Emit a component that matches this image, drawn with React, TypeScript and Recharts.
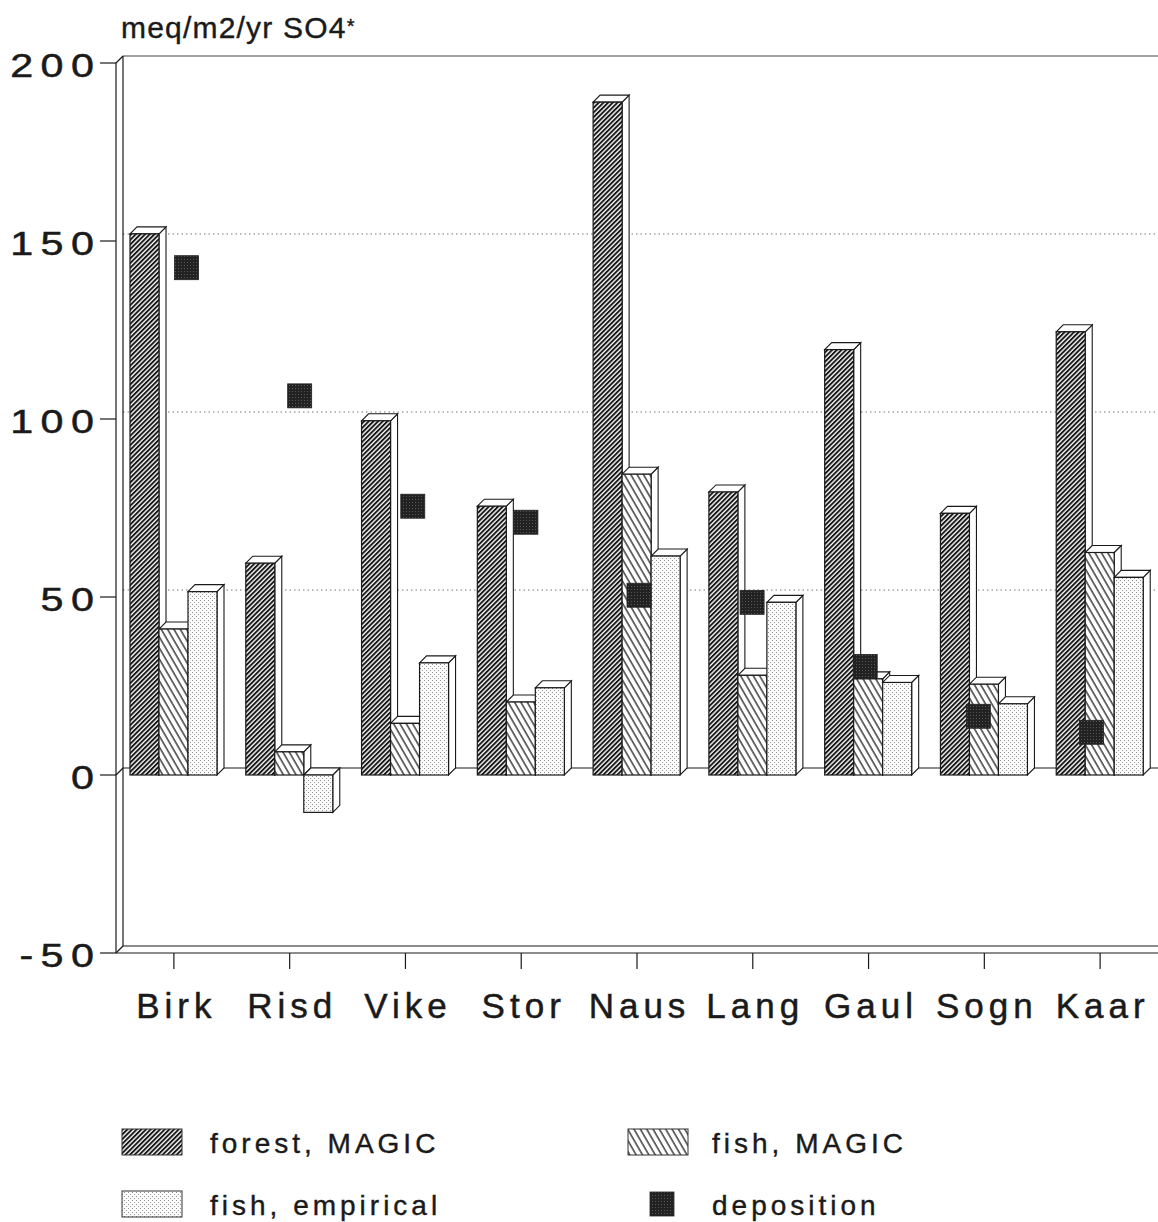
import React from 'react';
import { ComposedChart, Bar, Line, XAxis, YAxis, CartesianGrid } from 'recharts';

// ---------- data ----------
const categories = ['Birk', 'Risd', 'Vike', 'Stor', 'Naus', 'Lang', 'Gaul', 'Sogn', 'Kaar'];
const forestMagic = [152, 59.5, 99.5, 75.5, 189, 79.5, 119.5, 73.5, 124.5];
const fishMagic = [41, 6.5, 14.5, 20.5, 84.5, 28, 27, 25.5, 62.5];
const fishEmpirical = [51.5, -10.5, 31.5, 24.5, 61.5, 48.5, 26, 20, 55.5];
const deposition = [142.5, 106.5, 75.5, 71, 50.5, 48.5, 30.5, 16.5, 12];
const yTicks = [-50, 0, 50, 100, 150, 200];
const yDomain = [-50, 200];
const titleText = 'meq/m2/yr SO4';
const legendLabels = ['forest, MAGIC', 'fish, MAGIC', 'fish, empirical', 'deposition'];

const data = categories.map((name, i) => ({
  name,
  forest: forestMagic[i],
  fish: fishMagic[i],
  emp: fishEmpirical[i],
  dep: deposition[i],
}));

// ---------- layout / style ----------
const W = 1158;
const H = 1222;
const PLOT_TOP = 63;
const PLOT_BOTTOM = 953;
const DX = 7;
const DY = 7;
const INK = '#1a1a1a';
const FONT = '"Liberation Sans", Arial, Helvetica, sans-serif';

const Patterns = ({ p }: { p: string }) => (
  <defs>
    <pattern id={`${p}forest`} patternUnits="userSpaceOnUse" width="3.3" height="10" patternTransform="rotate(45)">
      <rect x="0" y="0" width="3.3" height="10" fill="#fff" />
      <line x1="1" y1="-1" x2="1" y2="11" stroke="#111" strokeWidth="1.9" />
    </pattern>
    <pattern id={`${p}fish`} patternUnits="userSpaceOnUse" width="5.5" height="10" patternTransform="rotate(-30)">
      <rect x="0" y="0" width="5.5" height="10" fill="#fff" />
      <line x1="1" y1="-1" x2="1" y2="11" stroke="#222" strokeWidth="1.3" />
    </pattern>
    <pattern id={`${p}emp`} patternUnits="userSpaceOnUse" width="4" height="4">
      <rect x="0" y="0" width="4" height="4" fill="#fbfbfb" />
      <rect x="0" y="0" width="1" height="1" fill="#8c8c8c" />
      <rect x="2" y="2" width="1" height="1" fill="#a0a0a0" />
    </pattern>
    <pattern id={`${p}dep`} patternUnits="userSpaceOnUse" width="3" height="3">
      <rect x="0" y="0" width="3" height="3" fill="#222" />
      <rect x="1" y="1" width="1" height="1" fill="#555" />
    </pattern>
  </defs>
);

const makePrism = (fillId: string) => (props: any) => {
  const { x, y, width, height } = props;
  if (x == null || y == null || width == null || height == null) return <g />;
  const top = Math.min(y, y + height);
  const h = Math.abs(height);
  const bottom = top + h;
  const r = x + width;
  return (
    <g>
      <polygon
        points={`${r},${top} ${r + DX},${top - DY} ${r + DX},${bottom - DY} ${r},${bottom}`}
        fill="#fff"
        stroke={INK}
        strokeWidth={1.1}
      />
      <polygon
        points={`${x},${top} ${x + DX},${top - DY} ${r + DX},${top - DY} ${r},${top}`}
        fill="#fff"
        stroke={INK}
        strokeWidth={1.1}
      />
      <rect x={x} y={top} width={width} height={h} fill={`url(#${fillId})`} stroke={INK} strokeWidth={1.2} />
    </g>
  );
};

const forestShape = makePrism('cforest');
const fishShape = makePrism('cfish');
const empShape = makePrism('cemp');

const DepSquare = (props: any) => {
  const { cx, cy, index } = props;
  if (cx == null || cy == null) return <g key={`d${index}`} />;
  return <rect key={`d${index}`} x={cx - 12} y={cy - 12} width={24} height={24} fill="url(#cdep)" stroke="#222" strokeWidth={0.8} />;
};

// grid lines & 3D frame drawn in the back plane
const gridLine = (props: any) => {
  const { x1, x2, y1, index } = props;
  const v = Math.round(yDomain[1] - ((y1 - PLOT_TOP) / (PLOT_BOTTOM - PLOT_TOP)) * (yDomain[1] - yDomain[0]));
  const bx = x1 + DX;
  const by = y1 - DY;
  if (v === yDomain[1]) {
    return (
      <g key={`g${index}`}>
        <line x1={x1} y1={y1} x2={bx} y2={by} stroke={INK} strokeWidth={1.2} />
        <line x1={bx} y1={by} x2={x2} y2={by} stroke="#444" strokeWidth={1.2} />
        <line x1={bx} y1={by} x2={bx} y2={PLOT_BOTTOM - DY} stroke={INK} strokeWidth={1.2} />
      </g>
    );
  }
  if (v === yDomain[0] || v === 0) {
    return (
      <g key={`g${index}`}>
        <line x1={x1} y1={y1} x2={bx} y2={by} stroke={INK} strokeWidth={1.2} />
        <line x1={bx} y1={by} x2={x2} y2={by} stroke={INK} strokeWidth={1.2} />
      </g>
    );
  }
  return (
    <g key={`g${index}`}>
      <line x1={bx} y1={by} x2={x2} y2={by} stroke="#777" strokeWidth={1} strokeDasharray="1.5 3" />
    </g>
  );
};

const YTick = (props: any) => {
  const { x, y, payload } = props;
  return (
    <text
      transform={`translate(${x + 3.5},${y + 14}) scale(1.25,1)`}
      textAnchor="end"
      fontFamily={FONT}
      fontSize={33}
      letterSpacing={6}
      fill={INK}
      stroke={INK}
      strokeWidth={0.5}
    >
      {String(payload.value)}
    </text>
  );
};

const XTick = (props: any) => {
  const { x, y, payload } = props;
  return (
    <text
      x={x + 2.5}
      y={y + 47}
      textAnchor="middle"
      fontFamily={FONT}
      fontSize={35}
      letterSpacing={5}
      fill={INK}
      stroke={INK}
      strokeWidth={0.5}
    >
      {payload.value}
    </text>
  );
};

const Legend = () => {
  const rows = [
    { x: 122, y: 1129, tx: 210, ty: 1153, id: 'lforest', label: legendLabels[0], kind: 'box' },
    { x: 628, y: 1129, tx: 712, ty: 1153, id: 'lfish', label: legendLabels[1], kind: 'box' },
    { x: 122, y: 1191, tx: 210, ty: 1215, id: 'lemp', label: legendLabels[2], kind: 'box' },
    { x: 650, y: 1192, tx: 712, ty: 1215, id: 'ldep', label: legendLabels[3], kind: 'sq' },
  ];
  return (
    <svg width={W} height={H} style={{ position: 'absolute', left: 0, top: 0, pointerEvents: 'none' }}>
      <Patterns p="l" />
      <text x={121} y={38} fontFamily={FONT} fontSize={30} letterSpacing={1.2} fill={INK} stroke={INK} strokeWidth={0.4}>
        {titleText}
        <tspan fontSize={20} dy={-5}>*</tspan>
      </text>
      {rows.map((r) => (
        <g key={r.id}>
          {r.kind === 'box' ? (
            <rect x={r.x} y={r.y} width={60} height={26} fill={`url(#${r.id})`} stroke="#333" strokeWidth={1} />
          ) : (
            <rect x={r.x} y={r.y} width={24} height={24} fill={`url(#${r.id})`} stroke="#222" strokeWidth={0.8} />
          )}
          <text x={r.tx} y={r.ty} fontFamily={FONT} fontSize={28} letterSpacing={4} fill={INK} stroke={INK} strokeWidth={0.4}>
            {r.label}
          </text>
        </g>
      ))}
    </svg>
  );
};

export default function App() {
  return (
    <div style={{ position: 'absolute', left: 0, top: 0, width: W, height: H, background: '#fff' }}>
      <ComposedChart
        width={W}
        height={H}
        data={data}
        margin={{ top: PLOT_TOP, right: 0, left: 16, bottom: H - PLOT_BOTTOM - 60 }}
        barSize={29}
        barGap={0}
      >
        <Patterns p="c" />
        <CartesianGrid vertical={false} horizontal={gridLine} />
        <XAxis
          dataKey="name"
          height={60}
          tickSize={16}
          tickLine={{ stroke: INK, strokeWidth: 1.2 }}
          axisLine={{ stroke: INK, strokeWidth: 1.2 }}
          tick={<XTick />}
          interval={0}
        />
        <XAxis xAxisId="dep" dataKey="name" hide padding={{ left: 14, right: 10 }} />
        <YAxis
          domain={yDomain}
          ticks={yTicks}
          interval={0}
          width={100}
          tickSize={16}
          tickLine={{ stroke: INK, strokeWidth: 1.2 }}
          axisLine={{ stroke: INK, strokeWidth: 1.2 }}
          tick={<YTick />}
          allowDataOverflow
        />
        <Bar dataKey="forest" shape={forestShape} isAnimationActive={false} />
        <Bar dataKey="fish" shape={fishShape} isAnimationActive={false} />
        <Bar dataKey="emp" shape={empShape} isAnimationActive={false} />
        <Line
          xAxisId="dep"
          dataKey="dep"
          stroke="none"
          dot={DepSquare}
          activeDot={false}
          isAnimationActive={false}
        />
      </ComposedChart>
      <Legend />
    </div>
  );
}
